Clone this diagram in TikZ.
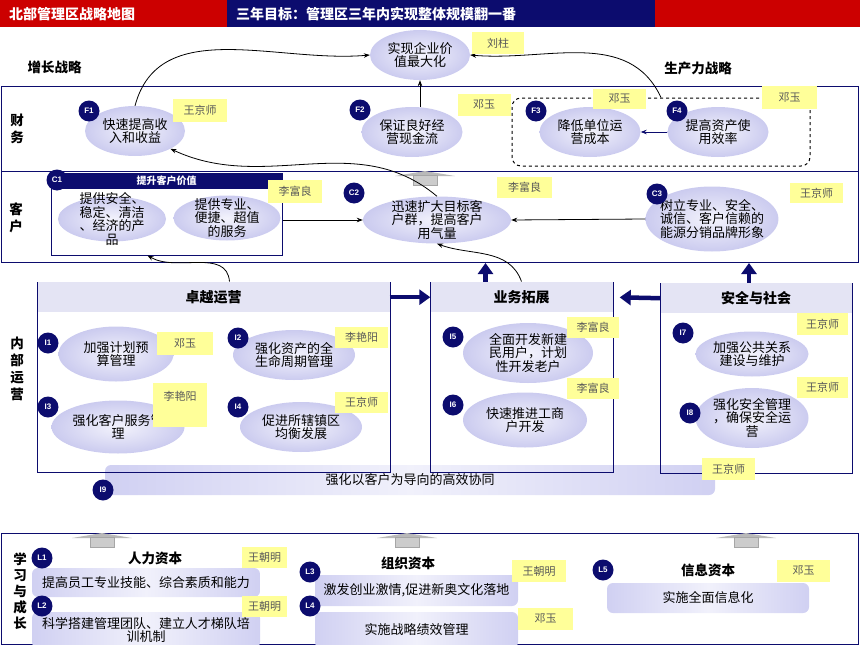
\documentclass[tikz,border=0pt]{standalone}
\usepackage{fontspec}
\setmainfont{Noto Sans CJK SC}
\newfontfamily\badgefont{Liberation Sans}
\usetikzlibrary{arrows.meta,shapes.geometric}
\definecolor{navy}{HTML}{0C0C6E}
\definecolor{mapred}{HTML}{CC0000}
\definecolor{ellout}{HTML}{CBCBEF}
\definecolor{ellin}{HTML}{F3F3FC}
\definecolor{tagy}{HTML}{FFFF99}
\definecolor{headc}{HTML}{E4E4F4}
\definecolor{barc}{HTML}{D0D0F2}

\begin{document}
\begin{tikzpicture}[
    x=1pt, y=-1pt,
    font=\fontsize{13}{13.5}\selectfont,
    topbar/.style={anchor=north west, minimum height=27pt, text=white, inner xsep=9pt, align=left, font=\bfseries\fontsize{14}{14}\selectfont},
    band/.style={draw=navy, line width=1pt, inner sep=0pt, anchor=north west, minimum width=857pt},
    heading/.style={font=\bfseries\fontsize{13.5}{17}\selectfont, align=center},
    ell/.style={ellipse, inner xsep=-5pt, inner ysep=-6pt, align=center, inner color=ellin, outer color=ellout},
    badge/.style={circle, fill=navy, text=white, minimum size=21pt, inner sep=0pt, font=\badgefont\bfseries\fontsize{8}{8}\selectfont},
    tag/.style={fill=tagy, text=black!65, inner sep=0pt, minimum width=53pt, minimum height=22pt, font=\fontsize{11}{12}\selectfont},
    panel/.style={draw=navy, line width=1pt, inner sep=0pt, minimum height=190pt},
    head/.style={fill=headc, anchor=north, inner sep=0pt, minimum height=30pt, font=\bfseries\fontsize{14}{14}\selectfont},
    bar/.style={rounded corners=6pt, left color=barc, right color=barc, middle color=barc!30, inner sep=0pt, align=center},
    line/.style={-{Stealth[length=6pt,width=4.5pt]}, line width=0.8pt},
    bigline/.style={-{Triangle[length=11pt,width=15pt]}, line width=4.5pt, draw=navy}
]
    \useasboundingbox (0,0) rectangle (860,645);

    \node[topbar, fill=mapred, text width=209pt] (maptitle) at (0,0) {北部管理区战略地图};
    \node[topbar, fill=navy, text width=410pt] (goal) at (227,0) {三年目标：管理区三年内实现整体规模翻一番};
    \node[topbar, fill=mapred, text width=187pt] (redend) at (655,0) {};

    \node[band, minimum height=85pt] (fin) at (0.5,86) {};
    \node[band, minimum height=91pt] (cust) at (0.5,171) {};
    \node[band, minimum height=111pt] (learn) at (0.5,533) {};

    \foreach \x/\y in {425/171, 102/533, 407/533, 746/533} {
        \fill[gray!55] (\x-30,\y+5) -- (\x,\y) -- (\x+30,\y+5) -- cycle;
        \draw[gray!70, fill=gray!40] (\x-12,\y+4) rectangle (\x+12,\y+14);
    }

    \node[heading] (growth) at (54.5,67) {增长战略};
    \node[heading] (productivity) at (698,68) {生产力战略};
    \node[heading] (finlabel) at (17,129) {财\\务};
    \node[heading] (custlabel) at (16,218) {客\\户};
    \node[heading] (oplabel) at (17,369) {内\\部\\运\\营};
    \node[heading, font=\bfseries\fontsize{13.5}{16}\selectfont] (learnlabel) at (20,591) {学\\习\\与\\成\\长};

    \node[ell, minimum width=100pt, minimum height=50pt] (value) at (420,55) {实现企业价\\值最大化};
    \node[ell, minimum width=100pt, minimum height=50pt] (revenue) at (135,131) {快速提高收\\入和收益};
    \node[ell, minimum width=101pt, minimum height=50pt] (cashflow) at (412,132) {保证良好经\\营现金流};
    \node[draw, dashed, rounded corners=9pt, line width=1pt, minimum width=298pt, minimum height=68pt] (prod) at (661,132) {};
    \node[ell, minimum width=101pt, minimum height=50pt] (unitcost) at (590,132) {降低单位运\\营成本};
    \node[ell, minimum width=101pt, minimum height=50pt] (assetuse) at (718,132) {提高资产使\\用效率};

    \node[draw=navy, line width=1pt, minimum width=231pt, minimum height=82pt, inner sep=0pt] (c1box) at (166.5,214) {};
    \node[fill=navy, text=white, anchor=north, minimum width=231pt, minimum height=16pt, inner sep=0pt, font=\bfseries\fontsize{10}{10}\selectfont] (c1head) at (c1box.north) {提升客户价值};
    \node[ell, inner ysep=-11pt, minimum width=108pt, minimum height=45pt] (prodsafe) at (112,219) {提供安全、\\稳定、清洁\\、经济的产\\品};
    \node[ell, minimum width=107pt, minimum height=45pt] (service) at (227,218) {提供专业、\\便捷、超值\\的服务};
    \node[ell, minimum width=148pt, minimum height=47pt] (market) at (437,220) {迅速扩大目标客\\户群，提高客户\\用气量};
    \node[ell, minimum width=130pt, minimum height=65pt] (brand) at (712,219) {树立专业、安全、\\诚信、客户信赖的\\能源分销品牌形象};

    \node[bar, minimum width=610pt, minimum height=30pt] (synergy) at (410,480) {强化以客户为导向的高效协同};

    \node[panel, minimum width=353pt] (excel) at (213.5,377) {};
    \node[head, minimum width=352pt] (exhead) at ([yshift=-0.5pt]excel.north) {卓越运营};
    \node[panel, minimum width=183pt] (grow) at (521.5,377) {};
    \node[head, minimum width=182pt] (growhead) at ([yshift=-0.5pt]grow.north) {业务拓展};
    \node[panel, minimum width=192pt] (safe) at (756,378) {};
    \node[head, minimum width=191pt] (safehead) at ([yshift=-0.5pt]safe.north) {安全与社会};

    \node[ell, minimum width=115pt, minimum height=55pt] (budget) at (116,354) {加强计划预\\算管理};
    \node[ell, minimum width=122pt, minimum height=50pt] (lifecycle) at (294,355) {强化资产的全\\生命周期管理};
    \node[ell, minimum width=133pt, minimum height=53pt] (custsvc) at (118,427) {强化客户服务管\\理};
    \node[ell, minimum width=122pt, minimum height=50pt] (balance) at (301,427) {促进所辖镇区\\均衡发展};
    \node[ell, minimum width=130pt, minimum height=60pt] (newusers) at (528,353) {全面开发新建\\民用户，计划\\性开发老户};
    \node[ell, minimum width=124pt, minimum height=55pt] (commerce) at (525,420) {快速推进工商\\户开发};
    \node[ell, minimum width=113pt, minimum height=45pt] (pubrel) at (752,354) {加强公共关系\\建设与维护};
    \node[ell, minimum width=113pt, minimum height=60pt] (safety) at (752,418) {强化安全管理\\，确保安全运\\营};

    \node[heading] (human) at (155,558) {人力资本};
    \node[heading] (organ) at (408,563) {组织资本};
    \node[heading] (inform) at (708,570) {信息资本};
    \node[bar, minimum width=228pt, minimum height=29pt] (skills) at (146,582.5) {提高员工专业技能、综合素质和能力};
    \node[bar, minimum width=228pt, minimum height=36pt] (team) at (146,630) {科学搭建管理团队、建立人才梯队培\\训机制};
    \node[bar, minimum width=203pt, minimum height=31pt] (culture) at (416.5,590.5) {激发创业激情,促进新奥文化落地};
    \node[bar, minimum width=203pt, minimum height=36pt] (perform) at (416.5,630) {实施战略绩效管理};
    \node[bar, minimum width=202pt, minimum height=30pt] (infosys) at (708,598) {实施全面信息化};

    \draw[line] (revenue.north) to[out=75,in=185] (value.west);
    \draw[line] (value.south |- cashflow.north) -- (value.south);
    \draw[line] (prod.north) to[out=115,in=-5] (value.east);
    \draw[line, navy] (assetuse.west) -- (unitcost.east);
    \draw[line] (market.north) to[out=140,in=-25] (revenue.south east);
    \draw[line] (c1box.east |- market) -- (market.west);
    \draw[line] (brand.west) -- (market.east);
    \draw[line] ([xshift=16pt]excel.north) to[out=95,in=-30] ([xshift=-19pt]c1box.south);
    \draw[line] (grow.north) to[out=110,in=-20] (market.south);
    \draw[bigline] (exhead.east) -- (growhead.west);
    \draw[bigline, shorten >=7pt] (safehead.west) -- (growhead.east);
    \draw[bigline] ([xshift=-36pt]grow.north) -- ([xshift=-36pt]grow.north |- cust.south);
    \draw[bigline] ([xshift=-7pt]safe.north) -- ([xshift=-7pt]safe.north |- cust.south);

    \node[badge] (bf1) at (89,111) {F1};
    \node[badge] (bf2) at (360,110) {F2};
    \node[badge] (bf3) at (536,111) {F3};
    \node[badge] (bf4) at (677,111) {F4};
    \node[badge] (bc1) at (57,180) {C1};
    \node[badge] (bc2) at (354,193) {C2};
    \node[badge] (bc3) at (657,194) {C3};
    \node[badge] (bi1) at (48,343) {I1};
    \node[badge] (bi2) at (238,338) {I2};
    \node[badge] (bi3) at (48,407) {I3};
    \node[badge] (bi4) at (238,407) {I4};
    \node[badge] (bi5) at (453,337) {I5};
    \node[badge] (bi6) at (453,405) {I6};
    \node[badge] (bi7) at (683,333) {I7};
    \node[badge] (bi8) at (690,413) {I8};
    \node[badge] (bi9) at (103,490) {I9};
    \node[badge] (bl1) at (42,558) {L1};
    \node[badge] (bl2) at (42,606) {L2};
    \node[badge] (bl3) at (310,572) {L3};
    \node[badge] (bl4) at (310,606) {L4};
    \node[badge] (bl5) at (603,570) {L5};

    \node[tag, minimum width=52pt] (tvalue) at (498,43) {刘柱};
    \node[tag, minimum width=54pt, minimum height=23pt] (trevenue) at (200,110.5) {王京师};
    \node[tag] (tcashflow) at (484,105) {邓玉};
    \node[tag, minimum height=20pt] (tunitcost) at (619.5,99) {邓玉};
    \node[tag, minimum width=55pt, minimum height=23pt] (tassetuse) at (789.5,97.5) {邓玉};
    \node[tag, minimum width=54pt, minimum height=23pt] (tc1) at (295,191.5) {李富良};
    \node[tag, minimum width=55pt, minimum height=21pt] (tmarket) at (524.5,187.5) {李富良};
    \node[tag, minimum height=20pt] (tbrand) at (816.5,193) {王京师};
    \node[tag, minimum width=56pt, minimum height=23pt] (tbudget) at (185,343.5) {邓玉};
    \node[tag, minimum height=21pt] (tlifecycle) at (361.5,337.5) {李艳阳};
    \node[tag, minimum width=54pt, minimum height=44pt, text depth=18pt] (tcustsvc) at (180,405) {李艳阳};
    \node[tag, minimum height=21pt] (tbalance) at (361.5,402.5) {王京师};
    \node[tag, minimum width=52pt, minimum height=21pt] (tnewusers) at (593,327.5) {李富良};
    \node[tag, minimum width=52pt, minimum height=21pt] (tcommerce) at (593,388.5) {李富良};
    \node[tag, minimum width=51pt] (tpubrel) at (822.5,324) {王京师};
    \node[tag, minimum width=51pt, minimum height=21pt] (tsafety) at (822.5,387.5) {王京师};
    \node[tag] (tsynergy) at (728.5,469) {王京师};
    \node[tag, minimum width=45pt, minimum height=21pt] (tskills) at (264.5,557.5) {王朝明};
    \node[tag, minimum width=45pt, minimum height=21pt] (tteam) at (264.5,606) {王朝明};
    \node[tag, minimum width=54pt] (tculture) at (539,571) {王朝明};
    \node[tag, minimum width=55pt] (tperform) at (545.5,619) {邓玉};
    \node[tag] (tinfosys) at (803.5,571) {邓玉};
\end{tikzpicture}
\end{document}
